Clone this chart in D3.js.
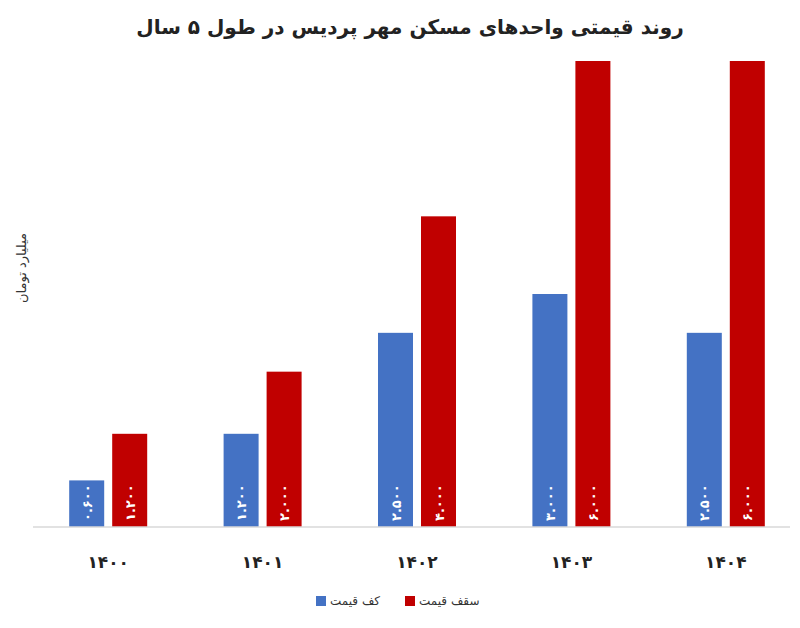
<!DOCTYPE html>
<html>
<head>
<meta charset="utf-8">
<script src="https://d3js.org/d3.v7.min.js"></script>
<style>body{margin:0;background:#fff;} text{font-family:"DejaVu Sans","Noto Sans",sans-serif;}</style>
</head>
<body>
<script>
var years = ["۱۴۰۰", "۱۴۰۱", "۱۴۰۲", "۱۴۰۳", "۱۴۰۴"];
var floorPrice = [0.6, 1.2, 2.5, 3.0, 2.5];   // کف قیمت
var ceilPrice = [1.2, 2.0, 4.0, 6.0, 6.0];    // سقف قیمت
var floorLabels = ["۰.۶۰۰", "۱.۲۰۰", "۲.۵۰۰", "۳.۰۰۰", "۲.۵۰۰"];
var ceilLabels = ["۱.۲۰۰", "۲.۰۰۰", "۴.۰۰۰", "۶.۰۰۰", "۶.۰۰۰"];

var w = 800, h = 628;
var svg = d3.select("body").append("svg").attr("width", w).attr("height", h);

var x = d3.scaleBand().domain(years).range([31, 803]).paddingInner(0.5).paddingOuter(0.25);
var y = d3.scaleLinear().domain([0, 6]).range([527, 61]);
var bw = 35, gap = 8;

var series = [
  {vals: floorPrice, labels: floorLabels, color: "#4472c4", off: -bw - gap / 2},
  {vals: ceilPrice, labels: ceilLabels, color: "#c00000", off: gap / 2}
];

series.forEach(function(s) {
  var g = svg.append("g");
  g.selectAll("rect").data(s.vals).enter().append("rect")
    .attr("x", function(d, i) { return x(years[i]) + x.bandwidth() / 2 + s.off; })
    .attr("y", function(d) { return y(d); })
    .attr("width", bw)
    .attr("height", function(d) { return y(0) - y(d); })
    .attr("fill", s.color);
  g.selectAll("text").data(s.vals).enter().append("text")
    .attr("transform", function(d, i) {
      var cx = x(years[i]) + x.bandwidth() / 2 + s.off + bw / 2;
      return "translate(" + (cx + 5) + "," + (y(0) - 6) + ") rotate(-90)";
    })
    .attr("fill", "#fff").attr("font-size", 13).attr("font-weight", "bold")
    .attr("text-anchor", "start")
    .text(function(d, i) { return s.labels[i]; });
});

svg.append("line").attr("x1", 33).attr("x2", 790).attr("y1", y(0)).attr("y2", y(0))
  .attr("stroke", "#d9d9d9").attr("stroke-width", 1.5);

svg.append("g").selectAll("text").data(years).enter().append("text")
  .attr("x", function(d) { return x(d) + x.bandwidth() / 2; })
  .attr("y", 568).attr("text-anchor", "middle")
  .attr("font-size", 17).attr("font-weight", "bold").attr("fill", "#222")
  .text(function(d) { return d; });

svg.append("text").attr("x", 410).attr("y", 34).attr("text-anchor", "middle")
  .attr("font-size", 20).attr("font-weight", "bold").attr("fill", "#222")
  .text("روند قیمتی واحدهای مسکن مهر  پردیس در طول ۵ سال");

svg.append("text").attr("transform", "translate(26,268) rotate(-90)")
  .attr("text-anchor", "middle").attr("font-size", 13).attr("fill", "#333")
  .text("میلیارد تومان");

// legend
var legend = [{name: "سقف قیمت", color: "#c00000", x: 405}, {name: "کف قیمت", color: "#4472c4", x: 316}];
legend.forEach(function(l) {
  svg.append("rect").attr("x", l.x).attr("y", 596).attr("width", 10).attr("height", 10).attr("fill", l.color);
  svg.append("text").attr("x", l.x + 14).attr("y", 605).attr("font-size", 12).attr("fill", "#333")
    .attr("direction", "ltr").text(l.name);
});
</script>
</body>
</html>
